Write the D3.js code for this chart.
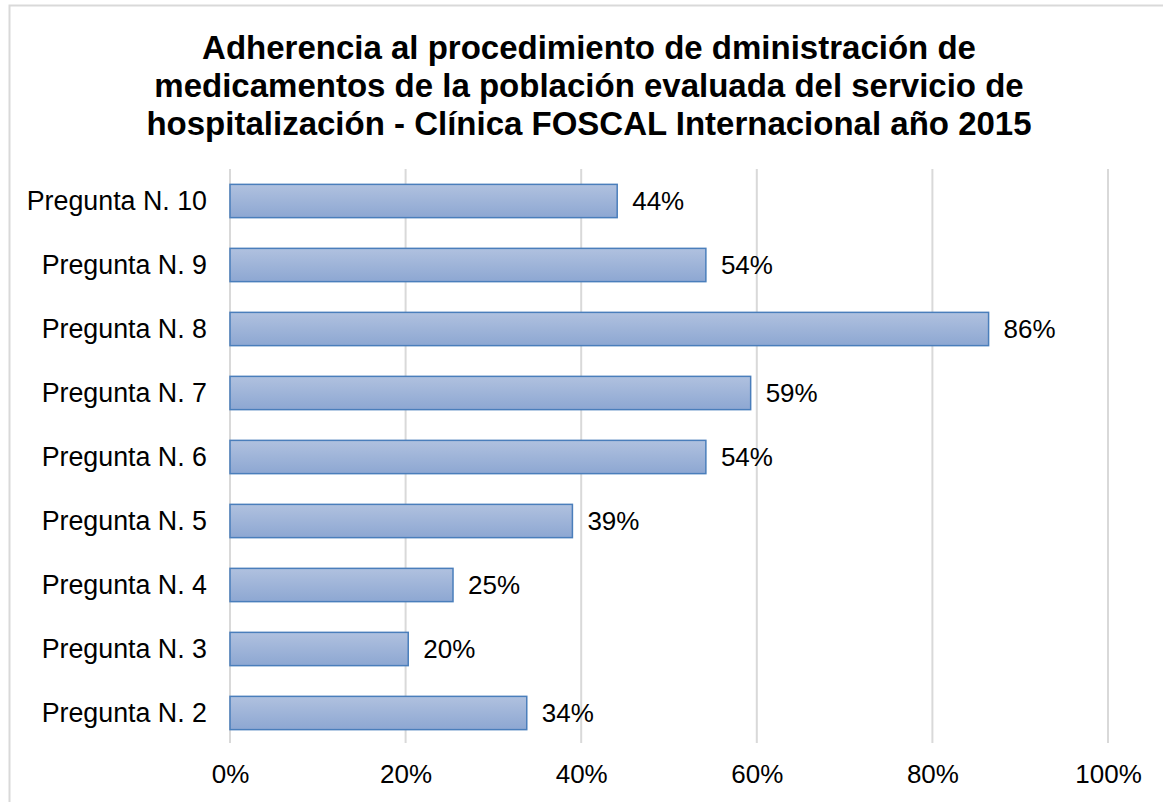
<!DOCTYPE html>
<html>
<head>
<meta charset="utf-8">
<script src="https://cdn.jsdelivr.net/npm/d3@7"></script>
<style>
  body { margin: 0; background: #fff; }
  svg { display: block; font-family: "Liberation Sans", Arial, sans-serif; }
</style>
</head>
<body>
<svg id="chart" width="1163" height="802"></svg>
<script>
const titleLines = [
  "Adherencia al procedimiento de dministración de",
  "medicamentos de la población evaluada del servicio de",
  "hospitalización - Clínica FOSCAL Internacional año 2015"
];
const categories = ["Pregunta N. 10", "Pregunta N. 9", "Pregunta N. 8", "Pregunta N. 7",
  "Pregunta N. 6", "Pregunta N. 5", "Pregunta N. 4", "Pregunta N. 3", "Pregunta N. 2"];
const values = [0.441, 0.542, 0.864, 0.593, 0.542, 0.39, 0.254, 0.203, 0.338];
const ticks = [0, 0.2, 0.4, 0.6, 0.8, 1];

const width = 1163, height = 802;
const margin = { top: 169, right: 55, bottom: 57, left: 230 };
const fontFamily = "'Liberation Sans', Arial, sans-serif";

const svg = d3.select("#chart");

// gradient fill for bars
const grad = svg.append("defs").append("linearGradient")
  .attr("id", "barFill").attr("x1", 0).attr("y1", 0).attr("x2", 0).attr("y2", 1);
grad.append("stop").attr("offset", "0%").attr("stop-color", "#b0c1df");
grad.append("stop").attr("offset", "100%").attr("stop-color", "#8da7d2");

// outer frame
svg.append("rect")
  .attr("x", 9.5).attr("y", 5.5)
  .attr("width", width).attr("height", height)
  .attr("fill", "none").attr("stroke", "#d9d9d9").attr("stroke-width", 2);

// title
svg.append("text")
  .attr("text-anchor", "middle")
  .attr("font-weight", "bold")
  .attr("font-size", 33)
  .attr("fill", "#000")
  .selectAll("tspan")
  .data(titleLines)
  .join("tspan")
  .attr("x", 589)
  .attr("y", (d, i) => 59 + i * 38)
  .text(d => d);

const x = d3.scaleLinear().domain([0, 1]).range([margin.left, width - margin.right]);
const y = d3.scaleBand().domain(categories)
  .range([margin.top, height - margin.bottom]).paddingInner(0.48).paddingOuter(0.24);

// gridlines
svg.append("g")
  .selectAll("line")
  .data(ticks)
  .join("line")
  .attr("x1", d => x(d)).attr("x2", d => x(d))
  .attr("y1", margin.top).attr("y2", height - margin.bottom - 2)
  .attr("stroke", "#d9d9d9").attr("stroke-width", 2);

// x tick labels
const xAxis = svg.append("g")
  .attr("transform", `translate(0,${height - margin.bottom})`)
  .call(d3.axisBottom(x).tickValues(ticks).tickFormat(d3.format(".0%")).tickSize(0).tickPadding(20));
xAxis.select(".domain").remove();
xAxis.attr("font-size", 26).attr("font-family", fontFamily);
xAxis.selectAll("text").attr("fill", "#000");

// y category labels
const yAxis = svg.append("g")
  .attr("transform", `translate(${margin.left},0)`)
  .call(d3.axisLeft(y).tickSize(0).tickPadding(23));
yAxis.select(".domain").remove();
yAxis.attr("font-size", 26.8).attr("font-family", fontFamily);
yAxis.selectAll("text").attr("fill", "#000");

// bars
svg.append("g")
  .selectAll("rect")
  .data(categories)
  .join("rect")
  .attr("x", x(0))
  .attr("y", d => y(d))
  .attr("width", (d, i) => x(values[i]) - x(0))
  .attr("height", y.bandwidth())
  .attr("fill", "url(#barFill)")
  .attr("stroke", "#4a7ebb")
  .attr("stroke-width", 1.5);

// value labels
svg.append("g")
  .attr("font-size", 26)
  .selectAll("text")
  .data(categories)
  .join("text")
  .attr("x", (d, i) => x(values[i]) + 15)
  .attr("y", d => y(d) + y.bandwidth() / 2)
  .attr("dy", "0.35em")
  .attr("fill", "#000")
  .text((d, i) => d3.format(".0%")(values[i]));
</script>
</body>
</html>
